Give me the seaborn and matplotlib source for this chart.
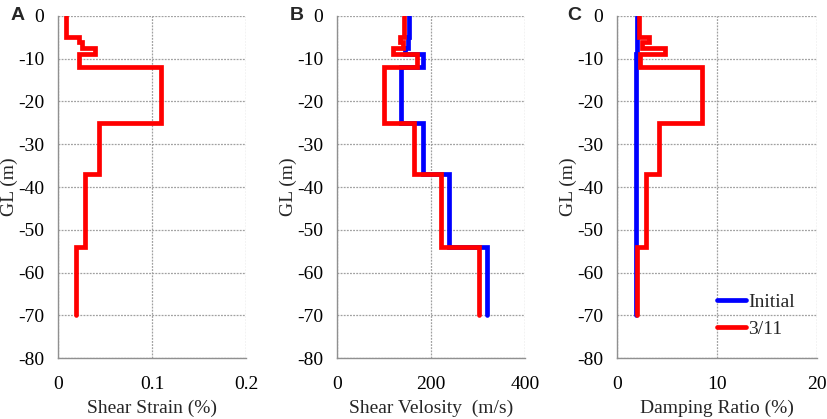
import numpy as np
import pandas as pd
import matplotlib
matplotlib.use('Agg')
import matplotlib.pyplot as plt
import seaborn as sns

# Layer boundaries (GL, m) and layer values
depths = [0, -5, -6, -7.5, -9, -12, -25, -37, -54, -70]

strain_311 = [0.009, 0.022, 0.025, 0.039, 0.022, 0.11, 0.044, 0.029, 0.019]

vs_initial = [154, 150, 150, 145, 182, 136, 182, 239, 320]
vs_311 = [143, 133, 140, 120, 170, 99, 164, 222, 303]

damp_initial = [2.0, 2.0, 2.0, 2.0, 1.9, 1.9, 1.9, 1.9, 1.9]
damp_311 = [2.2, 3.2, 2.5, 4.8, 2.3, 8.5, 4.2, 2.9, 2.0]

series_names = ['Initial', '3/11']
panel_letters = ['A', 'B', 'C']
x_labels = ['Shear Strain (%)', 'Shear Velosity  (m/s)', 'Damping Ratio (%)']
x_limits = [(0, 0.2), (0, 400), (0, 20)]
x_ticks = [[0, 0.1, 0.2], [0, 200, 400], [0, 10, 20]]
x_ticklabels = [['0', '0.1', '0.2'], ['0', '200', '400'], ['0', '10', '20']]
y_ticks = [0, -10, -20, -30, -40, -50, -60, -70, -80]


def profile(values, name):
    # turn layer values into a step profile (value, depth)
    xs, ys = [], []
    for i, v in enumerate(values):
        xs += [v, v]
        ys += [depths[i], depths[i + 1]]
    return pd.DataFrame({'x': xs, 'y': ys, 'series': name})


sns.set_style('white')
plt.rcParams['font.family'] = ['Liberation Serif', 'DejaVu Serif']
plt.rcParams['axes.unicode_minus'] = False

fig = plt.figure(figsize=(8.27, 4.19), dpi=100)
W, H = 827, 419
boxes = [(58, 188), (337, 188), (617, 200)]
axes = []
for left, width in boxes:
    axes.append(fig.add_axes([left / W, 1 - 358 / H, width / W, (358 - 16) / H]))

colors = {'Initial': '#0000ff', '3/11': '#ff0000'}

panels = [
    [profile(strain_311, '3/11')],
    [profile(vs_initial, 'Initial'), profile(vs_311, '3/11')],
    [profile(damp_initial, 'Initial'), profile(damp_311, '3/11')],
]

for i, ax in enumerate(axes):
    for df in panels[i]:
        name = df['series'].iloc[0]
        sns.lineplot(data=df, x='x', y='y', sort=False, estimator=None,
                     color=colors[name], lw=3.4, ax=ax, label=name,
                     solid_joinstyle='miter')
    ax.set_xlim(*x_limits[i])
    ax.set_ylim(-80, 0)
    ax.set_xticks(x_ticks[i])
    ax.set_xticklabels(x_ticklabels[i])
    ax.set_yticks(y_ticks)
    ax.grid(True, color='#a0a0a0', linestyle=(0, (1.5, 1)), linewidth=0.9)
    for s in ['top', 'right']:
        ax.spines[s].set_visible(False)
    for s in ['left', 'bottom']:
        ax.spines[s].set_color('#909090')
        ax.spines[s].set_linewidth(1.0)
    ax.tick_params(axis='both', labelsize=14, colors='black', length=4,
                   width=0.8, color='#909090')
    ax.tick_params(axis='y', pad=6)
    ax.tick_params(axis='x', pad=9)
    ax.set_xlabel(x_labels[i], fontsize=14, labelpad=5)
    ax.set_ylabel('GL (m)', fontsize=14, labelpad=0)
    ax.text(-0.25, 1.0, panel_letters[i], transform=ax.transAxes,
            fontsize=14, fontweight='bold', family='Liberation Sans',
            va='center', ha='left')
    if i < 2:
        ax.get_legend().remove()

leg = axes[2].legend(loc='upper left', bbox_to_anchor=(0.5, 0.19),
                     frameon=False, fontsize=14, handlelength=1.5,
                     handletextpad=0.1, labelspacing=0.5,
                     borderaxespad=0, borderpad=0)

plt.savefig('out.png', dpi=100)
